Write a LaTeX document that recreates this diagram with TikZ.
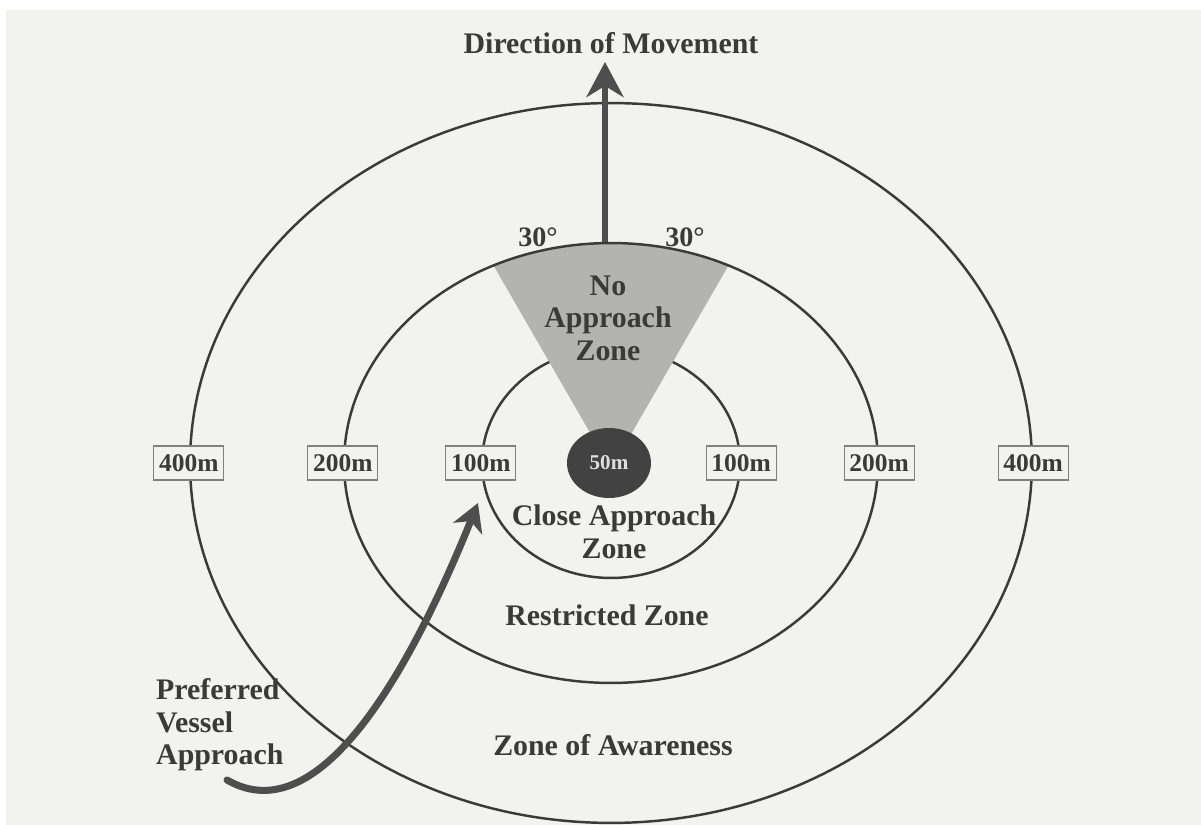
\documentclass[tikz,border=0pt]{standalone}
\usepackage{fontspec}
\setmainfont{Liberation Serif}
\usetikzlibrary{shapes.geometric,arrows.meta,positioning}
\definecolor{paper}{HTML}{F2F2F0}
\definecolor{ink}{HTML}{3A3A3A}
\definecolor{wedgegray}{HTML}{B3B3B1}
\definecolor{dotgray}{HTML}{424242}
\definecolor{arrowgray}{HTML}{4E4E4E}
\begin{document}
\begin{tikzpicture}[x=0.02cm, y=0.02cm,
  zone/.style={ellipse,draw=ink,line width=1.4pt,inner sep=0pt},
  dist/.style={draw=gray,fill=paper,line width=0.6pt,inner xsep=3pt,inner ysep=0pt,minimum height=0.68cm,font=\fontsize{14.5}{16}\selectfont\bfseries,text=ink},
  zlabel/.style={font=\fontsize{17}{18.5}\selectfont\bfseries,text=ink,align=center},
  heavy/.style={draw=arrowgray,line width=3.4pt,-{Stealth[length=0.7cm,width=0.74cm,inset=0.22cm]}},
  vessel/.style={draw=arrowgray,line width=4pt,line cap=round,-{Stealth[length=0.55cm,width=0.62cm,inset=0.16cm]}}]
\useasboundingbox (-611,-362) rectangle (590,463);
\fill[white] (-611,-362) rectangle (590,463);
\fill[paper] (-605,-362) rectangle (590,453);
% rings
\node[zone,minimum width=16.84cm,minimum height=14.4cm] (outer) at (0,0) {};
\node[zone,minimum width=5.16cm,minimum height=4.6cm] (inner) at (0,0) {};
% no approach wedge, 30 degrees each side
\begin{scope}
\clip (0,0) ellipse [x radius=267, y radius=220];
\fill[wedgegray] (0,-6) -- +(120:400) -- +(60:400) -- cycle;
\end{scope}
\node[zone,minimum width=10.68cm,minimum height=8.8cm] (middle) at (0,0) {};
\node[ellipse,fill=dotgray,inner sep=0pt,minimum width=1.68cm,minimum height=1.4cm,font=\fontsize{12}{14}\selectfont\bfseries,text=gray!25] (core) at (-2,0) {50m};
% distances
\node[dist] (w400) at (outer.west) {400m};
\node[dist] (w200) at (middle.west) {200m};
\node[dist] (w100) at (inner.west) {100m};
\node[dist] (e100) at (inner.east) {100m};
\node[dist] (e200) at (middle.east) {200m};
\node[dist] (e400) at (outer.east) {400m};
% zone names
\begin{scope}[every node/.style={zlabel}]
\node (dirlabel) at (0,420) {Direction of Movement};
\node (degl) at (-73,226) {\fontsize{16}{16}\selectfont 30°};
\node (degr) at (74,226) {\fontsize{16}{16}\selectfont 30°};
\node (noapp) at (-3,145) {No\\Approach\\Zone};
\node (close) at (3,-69) {Close Approach\\Zone};
\node (restr) at (-4,-152) {Restricted Zone};
\node (aware) at (2,-282) {Zone of Awareness};
\node[anchor=west,align=left] (pref) at (-461,-262) {Preferred\\Vessel\\Approach};
\end{scope}
% arrows
\coordinate (dirtip) at (-6,401);
\coordinate (vtail) at (-384,-317);
\coordinate (vtip) at (-133,-40);
\draw[heavy] (middle.north -| dirtip) -- (dirtip);
\draw[vessel] (vtail) .. controls (-289,-372) and (-197,-198) .. (vtip);
\end{tikzpicture}
\end{document}
